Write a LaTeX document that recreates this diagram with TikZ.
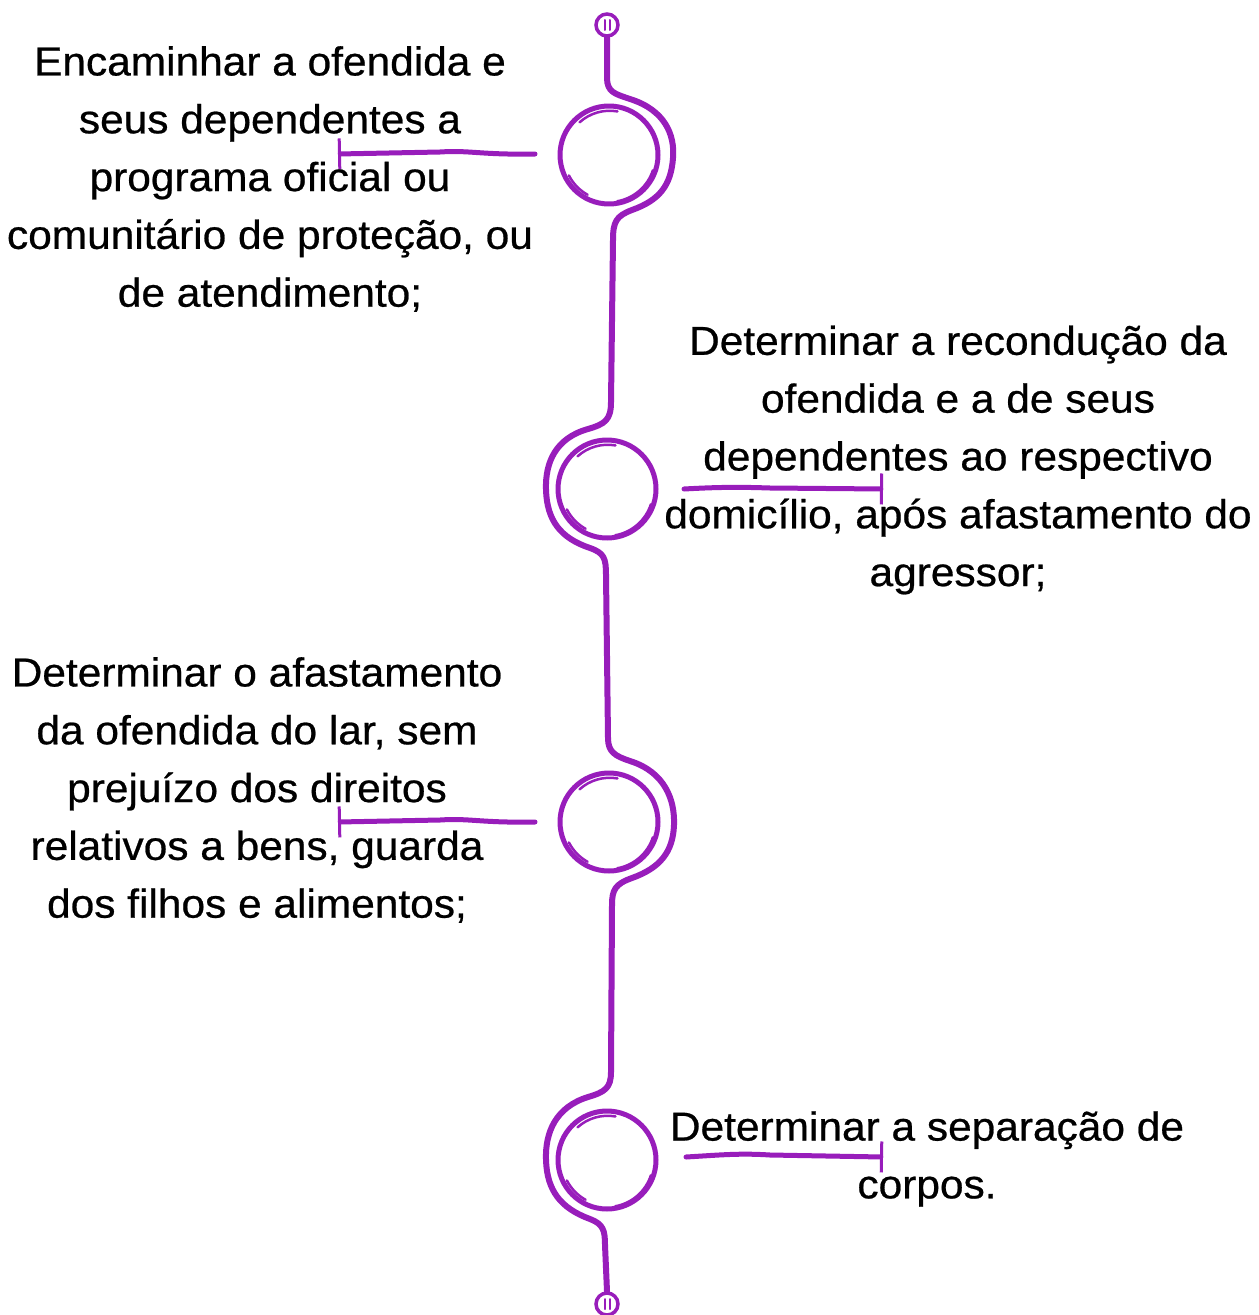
\documentclass[tikz,border=0pt]{standalone}
\usepackage{fontspec}
\setmainfont[FakeStretch=1.05, FakeBold=0.6]{Liberation Sans}
\usetikzlibrary{arrows.meta}
\definecolor{vio}{RGB}{152,29,187}
\tikzset{
  trunk/.style={draw=vio, line width=0.12cm, line cap=round, line join=round},
  ring/.style={circle, draw=vio, line width=0.1cm, minimum size=1.96cm, inner sep=0pt},
  sketch/.style={draw=vio, line width=0.05cm, line cap=round},
  endcap/.style={circle, draw=vio, line width=0.07cm, minimum size=0.44cm, inner sep=0pt},
  pointer/.style={draw=vio, line width=0.1cm, line cap=round, -{Bar[width=0.62cm, line width=0.06cm]}},
  label/.style={align=center, font=\fontsize{23pt}{32.9pt}\selectfont, text=black, inner sep=0pt}
}
\begin{document}
\begin{tikzpicture}[x=0.02cm, y=-0.02cm]
\path[use as bounding box, fill=white] (0,0) rectangle (1258,1315);

% end caps
\node[endcap] (top) at (607,25) {};
\node[endcap] (bot) at (607,1304) {};
\foreach \n in {top,bot}{
  \draw[sketch, line width=0.04cm] ([xshift=-0.05cm,yshift=0.1cm]\n.center) -- ([xshift=-0.05cm,yshift=-0.1cm]\n.center);
  \draw[sketch, line width=0.04cm] ([xshift=0.05cm,yshift=0.1cm]\n.center) -- ([xshift=0.05cm,yshift=-0.1cm]\n.center);
}

% rings
\node[ring] (c1) at (609,155) {};
\node[ring] (c2) at (607,489) {};
\node[ring] (c3) at (609,822) {};
\node[ring] (c4) at (607,1160) {};
\foreach \n in {c1,c2,c3,c4}{
  \draw[sketch] (\n.center) ++(132:0.88cm) arc (132:80:0.9cm);
  \draw[sketch] (\n.center) ++(207:0.9cm) arc (207:241:0.92cm);
  \draw[sketch] (\n.center) ++(280:0.94cm) arc (280:342:0.92cm);
}

% trunk line
\draw[trunk] (top.south) -- (607,78)
  .. controls (607,92) and (615,94) .. (630,99)
  .. controls (665,110) and (675,135) .. (673,158)
  .. controls (671,185) and (660,200) .. (632,210)
  .. controls (616,216) and (613,222) .. (613,240)
  -- (611,402)
  .. controls (611,420) and (605,424) .. (588,429)
  .. controls (556,438) and (545,462) .. (546,490)
  .. controls (547,520) and (560,538) .. (590,548)
  .. controls (604,553) and (606,558) .. (606,575)
  -- (608,738)
  .. controls (608,752) and (615,756) .. (630,761)
  .. controls (665,772) and (675,800) .. (674,825)
  .. controls (673,852) and (660,868) .. (632,878)
  .. controls (615,884) and (612,890) .. (612,905)
  -- (611,1072)
  .. controls (611,1088) and (605,1092) .. (588,1097)
  .. controls (556,1107) and (545,1132) .. (546,1160)
  .. controls (547,1190) and (560,1208) .. (590,1219)
  .. controls (603,1224) and (605,1230) .. (605,1245)
  -- (bot.north);

% pointers
\coordinate (p1s) at (535,154); \coordinate (p1e) at (338,154);
\coordinate (p2s) at (684,489); \coordinate (p2e) at (883,489);
\coordinate (p3s) at (535,822); \coordinate (p3e) at (338,822);
\coordinate (p4s) at (686,1157); \coordinate (p4e) at (883,1157);
\draw[pointer] (p1s) .. controls (480,155) and (470,150) .. (440,152) -- (p1e);
\draw[pointer] (p2s) .. controls (720,487) and (740,487) .. (770,488) -- (p2e);
\draw[pointer] (p3s) .. controls (480,823) and (470,818) .. (440,820) -- (p3e);
\draw[pointer] (p4s) .. controls (720,1155) and (740,1153) .. (770,1155) -- (p4e);

% labels
\node[label] (t1) at (270,179) {Encaminhar a ofendida e\\seus dependentes a\\programa oficial ou\\comunitário de proteção, ou\\de atendimento;};
\node[label] (t2) at (958,460) {Determinar a recondução da\\ofendida e a de seus\\dependentes ao respectivo\\domicílio, após afastamento do\\agressor;};
\node[label] (t3) at (257,790) {Determinar o afastamento\\da ofendida do lar, sem\\prejuízo dos direitos\\relativos a bens, guarda\\dos filhos e alimentos;};
\node[label] (t4) at (927,1159) {Determinar a separação de\\corpos.};
\end{tikzpicture}
\end{document}
